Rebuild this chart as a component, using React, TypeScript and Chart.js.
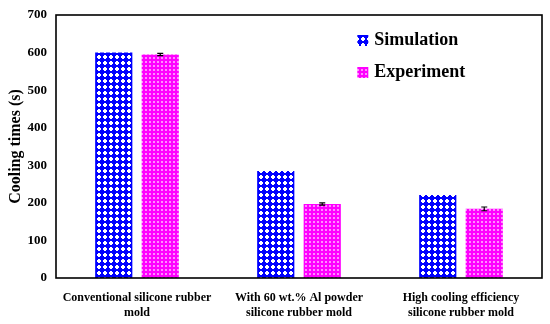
import React, { useEffect, useRef } from "react";
import { Chart, registerables } from "chart.js";

Chart.register(...registerables);

const categories: string[][] = [
  ["Conventional silicone rubber", "mold"],
  ["With 60 wt.% Al powder", "silicone rubber mold"],
  ["High cooling efficiency", "silicone rubber mold"],
];
const seriesNames = ["Simulation", "Experiment"];
const simulation = [600, 285, 221];
const experiment = [595, 197, 184];
const experimentErr = [3, 3, 5];
const yTicks = [0, 100, 200, 300, 400, 500, 600, 700];

const FONT = "'Liberation Serif', 'Times New Roman', serif";

function makeBluePattern(): CanvasPattern | string {
  const c = document.createElement("canvas");
  c.width = 6;
  c.height = 6;
  const g = c.getContext("2d");
  if (!g) return "#0000ff";
  g.fillStyle = "#0000ff";
  g.fillRect(0, 0, 6, 6);
  g.fillStyle = "#ffffff";
  g.fillRect(2, 1, 2, 4);
  g.fillRect(1, 2, 4, 2);
  return g.createPattern(c, "repeat") || "#0000ff";
}

function makePinkPattern(): CanvasPattern | string {
  const c = document.createElement("canvas");
  c.width = 4;
  c.height = 4;
  const g = c.getContext("2d");
  if (!g) return "#ff00ff";
  g.fillStyle = "#ff00ff";
  g.fillRect(0, 0, 4, 4);
  g.fillStyle = "#ff8cff";
  g.fillRect(1, 1, 2, 2);
  return g.createPattern(c, "repeat") || "#ff00ff";
}

export default function App() {
  const ref = useRef<HTMLCanvasElement | null>(null);

  useEffect(() => {
    document.body.style.margin = "0";
    const canvas = ref.current;
    if (!canvas) return;
    const blue = makeBluePattern();
    const pink = makePinkPattern();

    const framePlugin = {
      id: "frameAndExtras",
      afterDatasetsDraw(chart: any) {
        const ctx = chart.ctx;
        const { left, right, top, bottom } = chart.chartArea;
        const ys = chart.scales.y;
        const meta = chart.getDatasetMeta(1);
        ctx.save();
        ctx.strokeStyle = "#000";
        ctx.lineWidth = 1.2;
        meta.data.forEach((bar: any, i: number) => {
          const x = bar.x;
          const yHi = ys.getPixelForValue(experiment[i] + experimentErr[i]);
          const yLo = ys.getPixelForValue(experiment[i] - experimentErr[i]);
          ctx.beginPath();
          ctx.moveTo(x, yHi);
          ctx.lineTo(x, yLo);
          ctx.moveTo(x - 3, yHi);
          ctx.lineTo(x + 3, yHi);
          ctx.moveTo(x - 3, yLo);
          ctx.lineTo(x + 3, yLo);
          ctx.stroke();
        });
        ctx.lineWidth = 1.6;
        ctx.strokeRect(left, top, right - left, bottom - top);
        const lx = left + (right - left) * 0.62;
        const fills = [blue, pink];
        ctx.font = `bold 18px ${FONT}`;
        ctx.textBaseline = "middle";
        ctx.textAlign = "left";
        seriesNames.forEach((name, i) => {
          const cy = top + 25 + i * 32;
          ctx.fillStyle = fills[i] as any;
          ctx.fillRect(lx, cy - 5, 11, 11);
          ctx.fillStyle = "#000";
          ctx.fillText(name, lx + 17, cy);
        });
        ctx.restore();
      },
    };

    const chart = new Chart(canvas, {
      type: "bar",
      data: {
        labels: categories,
        datasets: [
          {
            label: seriesNames[0],
            data: simulation,
            backgroundColor: blue as any,
            borderWidth: 0,
          },
          {
            label: seriesNames[1],
            data: experiment,
            backgroundColor: pink as any,
            borderWidth: 0,
          },
        ],
      },
      options: {
        animation: false,
        responsive: false,
        maintainAspectRatio: false,
        datasets: {
          bar: { categoryPercentage: 0.574, barPercentage: 0.8 },
        },
        layout: { padding: { top: 15, right: 8, left: 6, bottom: 0 } },
        plugins: {
          legend: { display: false },
          tooltip: { enabled: false },
        },
        scales: {
          x: {
            grid: { display: false, drawTicks: false },
            border: { display: false },
            ticks: {
              color: "#000",
              font: { family: FONT, size: 12, weight: "bold" },
              padding: 13,
              maxRotation: 0,
              autoSkip: false,
            },
            afterFit(scale: any) {
              scale.height = 46;
              scale.paddingLeft = 0;
              scale.paddingRight = 0;
            },
          },
          y: {
            min: 0,
            max: 700,
            afterBuildTicks(scale: any) {
              scale.ticks = yTicks.map((v) => ({ value: v }));
            },
            grid: { display: false, drawTicks: false },
            border: { display: false },
            ticks: {
              color: "#000",
              font: { family: FONT, size: 13, weight: "bold" },
              padding: 9,
            },
            title: {
              display: true,
              text: "Cooling times (s)",
              color: "#000",
              font: { family: FONT, size: 16, weight: "bold" },
              padding: { top: 0, bottom: 4 },
            },
            afterFit(scale: any) {
              scale.width = 50;
              scale.paddingTop = 0;
              scale.paddingBottom = 0;
            },
          },
        },
      },
      plugins: [framePlugin],
    });
    return () => chart.destroy();
  }, []);

  return <canvas ref={ref} width={550} height={324} style={{ display: "block" }} />;
}
